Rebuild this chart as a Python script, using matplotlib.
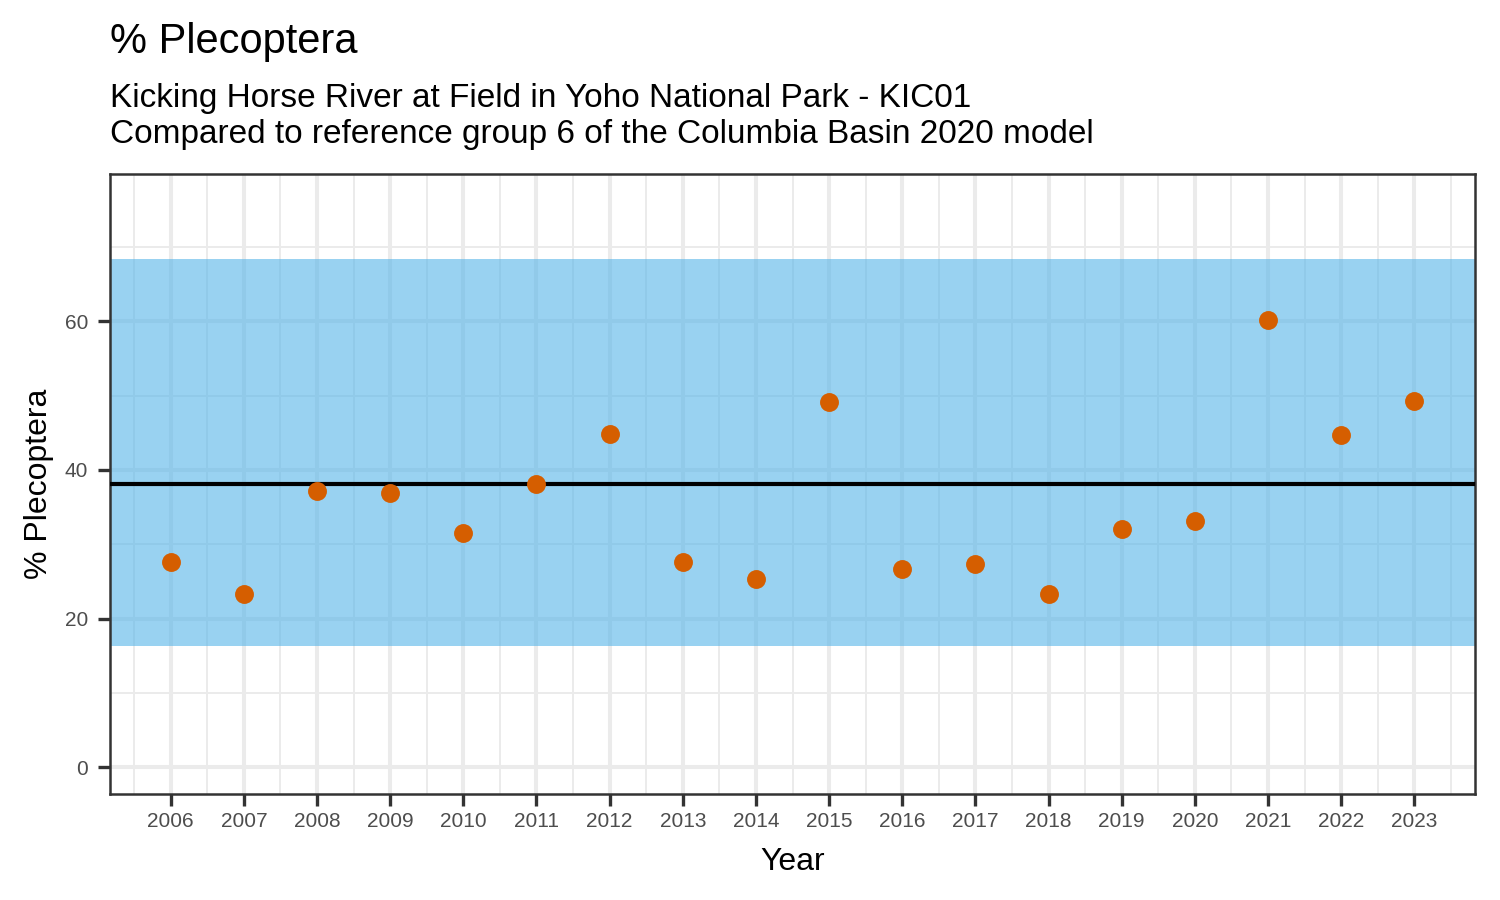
import matplotlib.pyplot as plt
from matplotlib.ticker import MultipleLocator

plt.rcParams['font.family'] = ['Liberation Sans', 'DejaVu Sans']

# Data
years = [2006, 2007, 2008, 2009, 2010, 2011, 2012, 2013, 2014,
         2015, 2016, 2017, 2018, 2019, 2020, 2021, 2022, 2023]
pct_plecoptera = [27.6, 23.3, 37.1, 36.9, 31.5, 38.1, 44.8, 27.6, 25.3,
                  49.1, 26.6, 27.4, 23.3, 32.0, 33.1, 60.1, 44.7, 49.2]
ref_mean = 38.1
ref_low = 16.3
ref_high = 68.3

W, H = 1500, 900
fig = plt.figure(figsize=(15, 9), dpi=100)
ax = fig.add_axes([110 / W, 1 - 794 / H, 1365 / W, 620 / H])

# gridlines (ggplot theme_bw look)
ax.set_axisbelow(True)
ax.xaxis.set_minor_locator(MultipleLocator(0.5))
ax.yaxis.set_minor_locator(MultipleLocator(10))
ax.grid(which="major", color="#ebebeb", linewidth=2.9)
ax.grid(which="minor", color="#ebebeb", linewidth=1.4)

ax.axhspan(ref_low, ref_high, color="#56B4E9", alpha=0.6, linewidth=0, zorder=2)
ax.axhline(ref_mean, color="black", linewidth=3, zorder=3)
ax.scatter(years, pct_plecoptera, s=185, color="#D55E00", linewidths=0, zorder=4)

ax.set_xlim(2005.17, 2023.83)
ax.set_ylim(-3.6, 79.8)
ax.set_xticks(years)
ax.set_xticklabels([str(y) for y in years])
ax.set_yticks([0, 20, 40, 60])

ax.tick_params(which="major", length=8.6, width=2.4, color="#333333",
               labelsize=15, labelcolor="#4d4d4d")
ax.tick_params(axis="x", pad=4.5)
ax.tick_params(axis="y", pad=7)
ax.tick_params(which="minor", length=0)
for s in ax.spines.values():
    s.set_color("#333333")
    s.set_linewidth(1.8)

ax.set_xlabel("Year", fontsize=23, va="baseline")
ax.xaxis.set_label_coords(792.5 / W, 1 - 870 / H, transform=fig.transFigure)
ax.set_ylabel("% Plecoptera", fontsize=23, va="baseline")
ax.yaxis.set_label_coords(47 / W, 1 - 484 / H, transform=fig.transFigure)

fig.text(110 / W, 1 - 53 / H, "% Plecoptera", fontsize=30, va="baseline", ha="left")
fig.text(110 / W, 1 - 107 / H, "Kicking Horse River at Field in Yoho National Park - KIC01",
         fontsize=24, va="baseline", ha="left")
fig.text(110 / W, 1 - 143 / H, "Compared to reference group 6 of the Columbia Basin 2020 model",
         fontsize=24, va="baseline", ha="left")

plt.savefig("out.png", dpi=100)
